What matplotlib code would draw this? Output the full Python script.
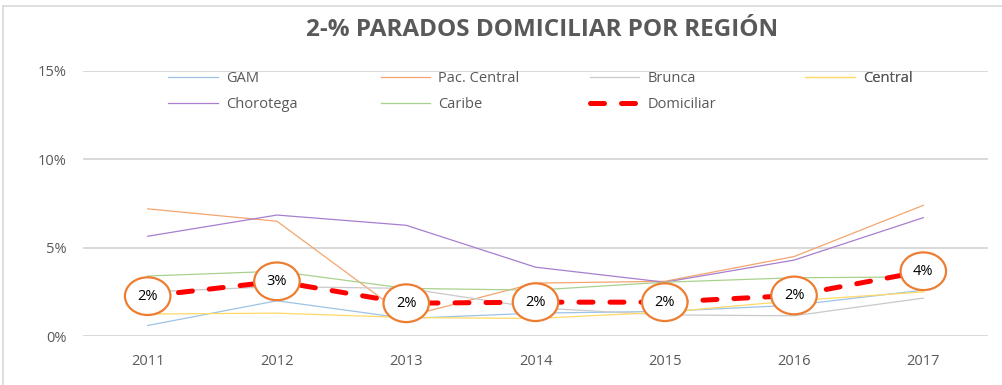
import matplotlib.pyplot as plt
from matplotlib.ticker import PercentFormatter
from matplotlib.lines import Line2D

plt.rcParams['font.family'] = ['Open Sans', 'DejaVu Sans']

years = ['2011', '2012', '2013', '2014', '2015', '2016', '2017']

# regional rates (%)
gam = [0.6, 2.0, 1.0, 1.3, 1.4, 1.75, 2.6]
pac_central = [7.2, 6.5, 1.1, 3.0, 3.1, 4.5, 7.4]
brunca = [2.5, 2.8, 2.7, 1.6, 1.2, 1.15, 2.15]
central = [1.25, 1.3, 1.05, 1.0, 1.35, 2.0, 2.5]
chorotega = [5.65, 6.85, 6.27, 3.9, 3.05, 4.3, 6.7]
caribe = [3.4, 3.67, 2.7, 2.6, 3.05, 3.3, 3.35]
domiciliar = [2.26, 3.1, 1.86, 1.92, 1.92, 2.3, 3.67]

series = [
    ('GAM', gam, '#9DC3E6'),
    ('Pac. Central', pac_central, '#F4A56F'),
    ('Brunca', brunca, '#C9C9C9'),
    ('Central', central, '#FFD966'),
    ('Chorotega', chorotega, '#A77FCE'),
    ('Caribe', caribe, '#A9D18E'),
]

grey = '#595959'

fig = plt.figure(figsize=(10.03, 3.85), dpi=100)
ax = fig.add_axes([0.0828, 0.127, 0.9022, 0.6886])

x = range(len(years))
handles = {}
for name, vals, col in series:
    ln, = ax.plot(x, vals, color=col, lw=0.9, label=name, zorder=2)
    handles[name] = ln

dom, = ax.plot(x, domiciliar, color='#FF0000', lw=3.6, ls=(0, (2.8, 3.4)),
               dash_capstyle='round', label='Domiciliar', zorder=3)
handles['Domiciliar'] = dom

# value bubbles on the household series
for xi, v in zip(x, domiciliar):
    ax.annotate('{:.0%}'.format(v / 100.0), (xi, v), ha='center', va='center',
                fontsize=10.5, color='black', zorder=5,
                bbox=dict(boxstyle='ellipse,pad=0.4', fc='white',
                          ec='#ED7D31', lw=1.6))

ax.set_xlim(-0.5, len(years) - 0.5)
ax.set_ylim(0, 15)
ax.set_yticks([0, 5, 10, 15])
ax.yaxis.set_major_formatter(PercentFormatter(decimals=0))
ax.set_xticks(list(x))
ax.set_xticklabels(years)
ax.tick_params(length=0, labelsize=10.5, colors=grey)
ax.tick_params(axis='x', pad=13)
ax.tick_params(axis='y', pad=12)
ax.grid(axis='y', color='#D9D9D9', lw=1.4)
ax.set_axisbelow(True)
for s in ax.spines.values():
    s.set_visible(False)

# legend laid out as four evenly spaced columns
cols = [['GAM', 'Chorotega'], ['Pac. Central', 'Caribe'],
        ['Brunca', 'Domiciliar'], ['Central']]
col_x = [0.094, 0.329, 0.560, 0.798]
for names, cx in zip(cols, col_x):
    leg = ax.legend([handles[n] for n in names], names, loc='upper left',
                    bbox_to_anchor=(cx, 1.0), frameon=False, fontsize=10.5,
                    handlelength=3.4, handletextpad=0.55, labelspacing=0.75,
                    borderpad=0, borderaxespad=0, labelcolor=grey)
    ax.add_artist(leg)

fig.text(0.54, 0.922, '2-% PARADOS DOMICILIAR POR REGIÓN', ha='center',
         va='center', fontsize=17.5, fontweight='bold', color=grey)

# outer chart frame
fig.add_artist(Line2D([0.003, 0.003], [0.0, 0.984], color='#D9D9D9', lw=1.2))
fig.add_artist(Line2D([0.003, 1.0], [0.984, 0.984], color='#D9D9D9', lw=1.2))

fig.savefig('out.png', dpi=100)
